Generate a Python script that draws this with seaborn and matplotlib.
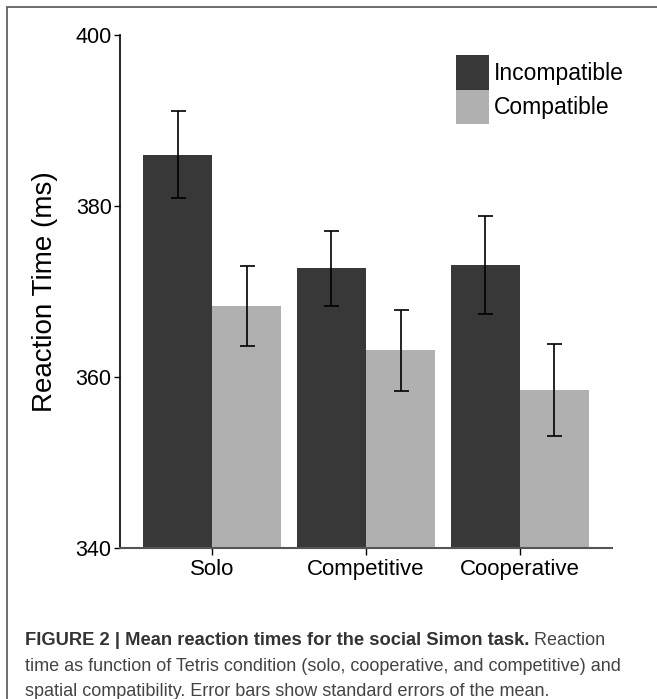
import pandas as pd
import seaborn as sns
import matplotlib.pyplot as plt
from matplotlib.patches import Rectangle

conditions = ["Solo", "Competitive", "Cooperative"]
compat_levels = ["Incompatible", "Compatible"]
incompatible_rt = [386.0, 372.7, 373.1]
compatible_rt = [368.3, 363.1, 358.5]
incompatible_se = [5.1, 4.35, 5.7]
compatible_se = [4.65, 4.75, 5.4]

rt = pd.DataFrame({
    "Condition": conditions * 2,
    "Compatibility": [compat_levels[0]] * 3 + [compat_levels[1]] * 3,
    "RT": incompatible_rt + compatible_rt,
})

sns.set_style("white")
plt.rcParams['font.family'] = ['Liberation Sans', 'DejaVu Sans']
plt.rcParams['text.color'] = 'black'
plt.rcParams['axes.labelcolor'] = 'black'
plt.rcParams['xtick.color'] = 'black'
plt.rcParams['ytick.color'] = 'black'

fig = plt.figure(figsize=(6.57, 6.99), dpi=100)
ax = fig.add_axes([120 / 657, 1 - 548 / 699, 492 / 657, 513 / 699])

sns.barplot(
    data=rt,
    x="Condition",
    y="RT",
    hue="Compatibility",
    order=conditions,
    hue_order=compat_levels,
    palette=["#383838", "#b0b0b0"],
    width=0.9,
    errorbar=None,
    linewidth=0,
    ax=ax
)

# standard errors on top of each bar
for bars, means, errs in zip(ax.containers, [incompatible_rt, compatible_rt],
                             [incompatible_se, compatible_se]):
    xs = [b.get_x() + b.get_width() / 2 for b in bars]
    ax.errorbar(xs, means, yerr=errs, fmt="none", ecolor="black",
                elinewidth=1.2, capsize=5.4, capthick=1.2)

ax.set_ylim(340, 400)
ax.set_xlim(-0.6, 2.6)
ax.set_yticks([340, 360, 380, 400])
ax.set_xlabel("")
ax.set_ylabel("Reaction Time (ms)", fontsize=20, labelpad=0)
ax.tick_params(axis="y", labelsize=15.5, length=4, width=1, direction="out", left=True, pad=2)
ax.tick_params(axis="x", labelsize=16, length=5, width=1, direction="out", bottom=True, pad=3)
ax.yaxis.set_label_coords(-0.125, 0.5)
sns.despine(ax=ax)
ax.spines["left"].set_color("black")
ax.spines["left"].set_linewidth(1.2)
ax.spines["bottom"].set_color("#555555")
ax.spines["bottom"].set_linewidth(1.5)

ax.legend(loc="upper left", bbox_to_anchor=(0.683, 0.961), frameon=False,
          fontsize=16.5, handlelength=1.45, handleheight=1.95, labelspacing=0,
          handletextpad=0.2, borderpad=0, borderaxespad=0)

# frame around figure (only top and left visible)
fig.patches.append(Rectangle((7 / 657, -0.1), 1.2, 1 - 7 / 699 + 0.1,
                             transform=fig.transFigure, fill=False,
                             edgecolor="#555555", linewidth=1.2))

cap1 = fig.text(25 / 657, 1 - 645 / 699, "FIGURE 2 | Mean reaction times for the social Simon task.",
                fontsize=13.2, fontweight="bold", color="#333333", va="baseline")
ax.annotate(" Reaction", xy=(1, 0), xycoords=cap1, va="bottom", ha="left",
            fontsize=13, color="#444444", annotation_clip=False)
fig.text(25 / 657, 1 - 671 / 699,
         "time as function of Tetris condition (solo, cooperative, and competitive) and",
         fontsize=13, color="#444444", va="baseline")
fig.text(25 / 657, 1 - 696 / 699,
         "spatial compatibility. Error bars show standard errors of the mean.",
         fontsize=13, color="#444444", va="baseline")

fig.savefig("out.png", dpi=100)
